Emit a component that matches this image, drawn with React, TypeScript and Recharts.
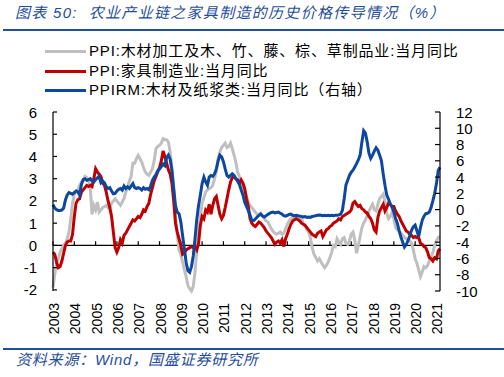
import React from 'react';
import { LineChart, Line, XAxis, YAxis, ReferenceLine } from 'recharts';

const yearLabels = ['2003','2004','2005','2006','2007','2008','2009','2010','2011','2012','2013','2014','2015','2016','2017','2018','2019','2020','2021'];

// PPI: 木材加工及木、竹、藤、棕、草制品业: 当月同比 (monthly, 2003-01 .. 2021-03)
const woodPPI = [
  -1.9, -1.3, -0.8, -0.6, -0.3, -0.15, 0.0, 0.1, 0.3, 0.6, 1.2, 1.9,
  2.3, 2.4, 2.5, 2.7, 2.85, 2.9, 3.1, 3.05, 2.9, 2.6, 1.4, 1.8,
  1.6, 1.95, 1.5, 1.6, 1.7, 1.75, 1.8, 1.7, 1.65, 1.9, 2.0, 2.1,
  2.0, 1.9, 1.8, 1.95, 2.1, 2.4, 2.6, 2.9, 3.1, 3.7, 3.7, 3.9,
  4.05, 3.9, 3.75, 3.5, 3.3, 3.2, 3.15, 3.3, 3.45, 3.8, 4.35, 4.45,
  4.5, 4.6, 4.8, 4.75, 4.75, 4.65, 4.2, 3.5, 2.5, 1.3, 0.5, -0.2,
  -0.4, -0.75, -1.1, -1.4, -1.8, -1.95, -2.05, -1.85, -1.2, -0.2, 0.6, 1.3,
  1.9, 2.15, 2.4, 2.5, 2.55, 2.6, 2.7, 3.0, 3.3, 3.9, 4.2, 4.4,
  4.5, 4.6, 4.4, 4.45, 4.6, 4.35, 4.05, 3.75, 3.3, 3.1, 2.85, 2.6,
  2.45, 2.2, 1.95, 1.8, 1.7, 1.6, 1.5, 1.4, 1.4, 1.45, 1.35, 1.2,
  1.1, 1.05, 0.9, 0.75, 0.62, 0.55, 0.5, 0.55, 0.6, 0.5, 0.55, 0.75,
  0.95, 1.1, 1.2, 1.25, 1.2, 1.3, 1.3, 1.25, 1.2, 1.0, 0.9, 0.7,
  0.6, 0.35, -0.1, -0.4, -0.55, -0.7, -0.6, -0.75, -0.88, -1.0, -0.9, -0.75,
  -0.55, -0.3, 0.0, -0.05, 0.3, 0.15, 0.05, 0.3, 0.35, 0.1, 0.05, 0.2,
  0.5, 0.6, 0.25, -0.35, 0.0, 0.4, 0.8, 1.0, 1.15, 1.35, 1.55, 1.7,
  1.85, 1.6, 1.55, 1.85, 2.1, 2.2, 2.3, 2.0, 1.45, 1.2, 1.3, 1.5,
  1.2, 0.8, 0.7, 0.65, 0.55, 0.45, 0.35, 0.3, 0.25, 0.2, 0.1, -0.2,
  -0.6, -0.8, -1.1, -1.4, -1.2, -0.95, -1.0, -0.9, -0.7, -0.55, -0.3, 0.0,
  0.2, 0.35, 0.4,
];

// PPI: 家具制造业: 当月同比
const furniturePPI = [
  -0.3, -0.4, -0.75, -1.0, -0.95, -0.7, -0.35, 0.0, 0.15, 0.2, 0.2, 0.5,
  1.3, 1.9, 2.05, 2.1, 2.4, 2.5, 2.6, 2.7, 2.65, 2.7, 2.65, 3.0,
  3.45, 3.3, 3.2, 3.1, 2.8, 2.7, 2.4, 2.0, 1.7, 1.3, 0.6, -0.1,
  -0.3, -0.1, 0.25, 0.1, 0.45, 0.55, 0.7, 0.85, 1.0, 1.15, 1.1, 1.2,
  1.3, 1.25, 1.4, 1.6, 1.55, 1.75, 1.9, 2.3, 2.6, 2.9, 3.1, 3.3,
  3.5, 3.8, 4.25, 4.0, 3.7, 3.4, 3.2, 2.8, 2.0, 1.0, 0.6, 0.3,
  0.0, -0.4, -0.35, -0.2, -0.15, -0.1, -0.05, -0.1, -0.05, -0.2, 0.1, 0.9,
  1.3, 1.2, 1.6, 1.5, 1.85, 1.4, 1.8, 2.1, 2.2, 1.8, 1.4, 1.2,
  1.35, 1.7, 2.1, 2.5, 2.85, 3.05, 3.1, 3.0, 2.95, 2.8, 2.95, 2.8,
  2.55, 2.1, 1.75, 1.2, 1.0, 0.9, 0.85, 0.95, 1.05, 1.0, 0.9, 0.8,
  0.65, 0.55, 0.45, 0.35, 0.2, 0.05, 0.15, 0.2, 0.1, 0.25, -0.05, 0.3,
  0.5, 0.75, 0.95, 1.1, 1.15, 1.2, 1.15, 1.1, 1.0, 0.95, 0.9, 0.8,
  0.7, 0.6, 0.5, 0.45, 0.4, 0.55, 0.6, 0.65, 0.4, 0.55, 0.7, 0.75,
  0.85, 0.9, 1.0, 1.05, 1.1, 1.2, 1.15, 1.3, 1.35, 1.4, 1.45, 1.5,
  1.6, 1.9, 1.97, 1.85, 1.75, 1.8, 1.65, 1.6, 1.5, 1.45, 1.3, 1.2,
  1.0, 0.7, 0.6, 1.25, 1.55, 1.7, 1.85, 1.55, 1.7, 1.9, 1.85, 1.75,
  1.75, 1.55, 1.4, 1.3, 1.1, 0.95, 0.8, 0.65, 0.6, 0.5, 0.45, 0.35,
  0.4, 0.35, 0.35, 0.1, 0.05, -0.05, -0.1, -0.3, -0.55, -0.6, -0.7, -0.55,
  -0.6, -0.25, -0.15,
];

// PPIRM: 木材及纸浆类: 当月同比 (right axis)
const ppirmWood = [
  0.6, 0.2, 0.0, -0.1, -0.1, -0.05, 0.2, 1.2, 1.8, 2.1, 2.0, 1.9,
  2.1, 2.3, 2.2, 1.8, 3.1, 3.7, 3.8, 3.6, 3.7, 3.8, 3.5, 3.4,
  3.7, 3.9, 4.1, 3.3, 3.5, 3.3, 2.8, 2.6, 2.7, 2.3, 1.95, 2.0,
  2.3, 2.5, 2.6, 2.4, 2.9, 2.6, 2.8, 2.6, 2.9, 3.2, 2.7, 2.6,
  2.7, 2.6, 2.4, 2.7, 2.5, 2.6, 2.45, 2.9, 3.6, 4.0, 4.3, 4.8,
  5.0, 5.3, 5.6, 5.4, 6.4, 6.7, 6.2, 4.8, 2.6, 0.5, -0.3, -0.5,
  -1.5, -3.2, -4.8, -6.5, -7.5, -7.7, -7.0, -5.7, -3.6, -1.2, 0.5, 1.8,
  3.2, 4.0, 3.4, 3.0, 4.0, 4.2, 4.1, 4.4, 5.0, 6.0, 6.7, 6.5,
  5.9, 5.0, 4.2, 4.0, 4.2, 4.4, 4.2, 3.8, 3.5, 3.1, 2.4, 1.8,
  0.9, 0.4, -0.1, -0.7, -1.3, -1.35, -1.15, -0.9, -0.7, -0.55, -0.8, -0.9,
  -0.75, -0.6, -0.45, -0.35, -0.3, -0.4, -0.35, -0.3, -0.45, -0.55, -0.75, -0.8,
  -0.7, -0.6, -0.55, -0.7, -0.75, -0.7, -0.75, -0.8, -0.85, -0.9, -0.85, -0.95,
  -0.9, -0.95, -0.85, -0.8, -0.75, -0.7, -0.65, -0.7, -0.75, -0.7, -0.75, -0.7,
  -0.75, -0.7, -0.75, -0.7, -0.7, -0.65, -0.55, -0.1, 1.3, 3.0, 3.6, 4.2,
  4.6, 4.85, 5.25, 5.65, 6.1, 6.7, 8.3, 9.7, 9.4, 8.3, 6.9, 6.3,
  6.7, 7.2, 7.6, 7.3, 6.7, 6.0, 4.4, 3.0, 1.8, 1.3, 0.7, 0.3,
  -0.3, -1.1, -1.7, -2.6, -3.4, -4.0, -4.6, -4.3, -3.8, -3.2, -2.5, -2.1,
  -1.9, -2.6, -3.3, -2.2, -1.3, -0.8, -0.5, -0.45, -0.3, 0.3, 1.1, 2.0,
  3.2, 4.8, 5.2,
];

const leftTicks = [-2, -1, 0, 1, 2, 3, 4, 5, 6];
const rightTicks = [-10, -8, -6, -4, -2, 0, 2, 4, 6, 8, 10, 12];

const legendNames = [
  'PPI:木材加工及木、竹、藤、棕、草制品业:当月同比',
  'PPI:家具制造业:当月同比',
  'PPIRM:木材及纸浆类:当月同比（右轴）',
];

const COLORS = { wood: '#BFBFBF', furniture: '#C00000', ppirm: '#0C47A0' };
const BLUE = '#1F4E9A';
const FONT = "'Liberation Sans', 'Noto Sans CJK SC', sans-serif";

const data = woodPPI.map((v, i) => ({
  m: i,
  wood: v,
  furniture: furniturePPI[i],
  ppirm: ppirmWood[i],
}));

const yearTicks = yearLabels.map((_, i) => i * 12);

const LeftTick = (props: any) => {
  const { x, y, payload } = props;
  return (
    <g>
      <line x1={x} x2={x + 4} y1={y} y2={y} stroke="#000" strokeWidth={1.2} />
      <text x={x - 16} y={y} textAnchor="end" dominantBaseline="central" fontSize={15} fill="#000" fontFamily={FONT}>
        {payload.value}
      </text>
    </g>
  );
};

const RightTick = (props: any) => {
  const { x, y, payload } = props;
  return (
    <g>
      <line x1={x - 5} x2={x} y1={y} y2={y} stroke="#000" strokeWidth={1.2} />
      <text x={x + 16} y={y} textAnchor="start" dominantBaseline="central" fontSize={15} fill="#000" fontFamily={FONT}>
        {payload.value}
      </text>
    </g>
  );
};

const BottomTick = (props: any) => {
  const { x, y, payload } = props;
  const label = yearLabels[Math.round(payload.value / 12)];
  const tx = x + 1;
  const ty = y + 12;
  return (
    <text
      x={tx}
      y={ty}
      transform={`rotate(-90, ${tx}, ${ty})`}
      textAnchor="end"
      dominantBaseline="central"
      fontSize={14}
      fill="#000"
      fontFamily={FONT}
    >
      {label}
    </text>
  );
};

export default function App() {
  const seriesColors = [COLORS.wood, COLORS.furniture, COLORS.ppirm];
  const legendY = [51, 71, 90];
  return (
    <div style={{ position: 'absolute', left: 0, top: 0, width: 504, height: 377, background: '#fff', overflow: 'hidden', fontFamily: FONT }}>
      <div style={{ position: 'absolute', left: 15, top: 3, fontSize: 15, fontStyle: 'italic', color: BLUE, whiteSpace: 'nowrap', lineHeight: '20px', letterSpacing: 1.3 }}>
        图表 50:&nbsp;&nbsp;农业产业链之家具制造的历史价格传导情况（%）
      </div>
      <div style={{ position: 'absolute', left: 3, top: 29, width: 501, height: 2, background: BLUE }} />
      {legendNames.map((name, i) => (
        <React.Fragment key={name}>
          <div style={{ position: 'absolute', left: 45, top: legendY[i] - 1.5, width: 41, height: 3, background: seriesColors[i] }} />
          <div style={{ position: 'absolute', left: 89, top: legendY[i] - 10, lineHeight: '20px', fontSize: 15, color: '#000', whiteSpace: 'nowrap', letterSpacing: 0.85 }}>
            {name}
          </div>
        </React.Fragment>
      ))}
      <div style={{ position: 'absolute', left: 0, top: 0 }}>
        <LineChart width={504} height={377} data={data} margin={{ top: 112, right: 0, bottom: 0, left: 0 }}>
          <XAxis
            dataKey="m"
            type="number"
            domain={[0, 218]}
            ticks={yearTicks}
            interval={0}
            height={86}
            axisLine={false}
            tickLine={false}
            tickSize={0}
            tickMargin={0}
            tick={<BottomTick />}
          />
          <YAxis
            yAxisId="left"
            orientation="left"
            width={53}
            domain={[-2, 6]}
            ticks={leftTicks}
            interval={0}
            axisLine={{ stroke: '#000', strokeWidth: 1.2 }}
            tickLine={false}
            tickSize={0}
            tickMargin={0}
            tick={<LeftTick />}
          />
          <YAxis
            yAxisId="right"
            orientation="right"
            width={64}
            domain={[-10, 12]}
            ticks={rightTicks}
            interval={0}
            axisLine={{ stroke: '#000', strokeWidth: 1.2 }}
            tickLine={false}
            tickSize={0}
            tickMargin={0}
            tick={<RightTick />}
          />
          <ReferenceLine yAxisId="left" y={0} stroke="#000" strokeWidth={1.3} />
          {yearTicks.map((t) => (
            <ReferenceLine
              key={t}
              yAxisId="left"
              segment={[{ x: t, y: 0 }, { x: t, y: 0.19 }]}
              stroke="#000"
              strokeWidth={1.2}
            />
          ))}
          <Line yAxisId="left" type="linear" dataKey="wood" stroke={COLORS.wood} strokeWidth={3} dot={false} isAnimationActive={false} />
          <Line yAxisId="left" type="linear" dataKey="furniture" stroke={COLORS.furniture} strokeWidth={3} dot={false} isAnimationActive={false} />
          <Line yAxisId="right" type="linear" dataKey="ppirm" stroke={COLORS.ppirm} strokeWidth={3} dot={false} isAnimationActive={false} />
        </LineChart>
      </div>
      <div style={{ position: 'absolute', left: 3, top: 348, width: 501, height: 2, background: BLUE }} />
      <div style={{ position: 'absolute', left: 16, top: 351, fontSize: 15, fontStyle: 'italic', color: BLUE, whiteSpace: 'nowrap', lineHeight: '18px', letterSpacing: 0.8 }}>
        资料来源：Wind，国盛证券研究所
      </div>
    </div>
  );
}
